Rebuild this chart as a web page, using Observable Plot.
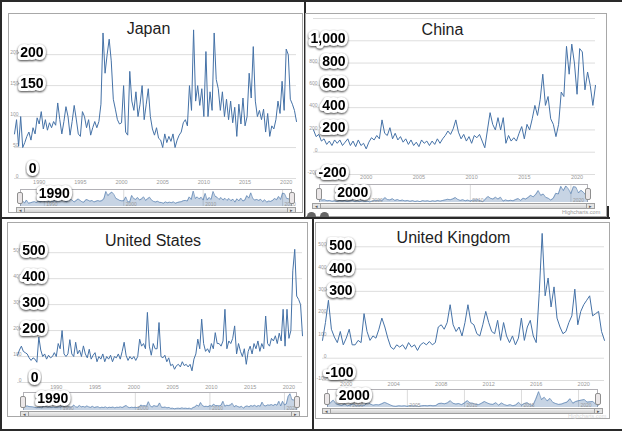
<!DOCTYPE html>
<html><head><meta charset="utf-8">
<script src="https://cdn.jsdelivr.net/npm/d3@7"></script>
<script src="https://cdn.jsdelivr.net/npm/@observablehq/plot@0.6"></script>
<style>
body{margin:0;background:#fff;font-family:"Liberation Sans",Arial,sans-serif;}
#root{position:relative;width:622px;height:431px;overflow:hidden;background:#fff;}
.abs{position:absolute;box-sizing:border-box;}
.hc{border:1px solid #a8a8a8;}
.blk{border:2px solid #2a2a2a;}
.line{background:#2a2a2a;}
.nav{border:1px solid #b2b1b6;border-bottom:none;}
.handle{background:#ebe7e8;border:1px solid #8f8f8f;border-radius:2px;}
.scroll{border:1px solid #a0a0a0;background:linear-gradient(#f0f0f0,#d2d2d2);}
.btn{position:absolute;top:0;bottom:0;width:7px;background:#e4e4e4;font-size:5px;line-height:5px;color:#555;text-align:center;}
.tiny{font-size:5.5px;color:#9a9a9a;white-space:nowrap;}
</style></head><body>
<svg width="0" height="0" style="position:absolute">
<defs><filter id="stk" x="-40%" y="-60%" width="180%" height="220%" color-interpolation-filters="sRGB">
<feMorphology in="SourceAlpha" operator="dilate" radius="0.3" result="dil"/>
<feGaussianBlur in="dil" stdDeviation="0.8" result="blur"/>
<feOffset in="blur" dx="0.3" dy="1" result="off"/>
<feFlood flood-color="#000" flood-opacity="0.75" result="col"/>
<feComposite in="col" in2="off" operator="in" result="shadow"/>
<feMerge><feMergeNode in="shadow"/><feMergeNode in="SourceGraphic"/></feMerge>
</filter></defs></svg>
<div id="root"></div>
<script>
// ---- data (quarterly values) ----
const japanStart = 1987;
const japanValues = [
 72,95,52,100, 50,58,68,75, 62,82,72,98, 88,108,80,95, 78,90,82,92,
 86,122,95,72, 92,116,100,70, 92,118,96,72, 68,108,100,82, 95,70,82,92,
 82,92,120,235, 170,200,225,190, 128,112,95,88, 90,150,75,70, 173,125,110,140,
 100,120,150,95, 120,145,100,80, 70,82,65,62, 50,72,58,68, 60,72,50,62,
 70,75,90,95, 85,150,110,240, 125,150,118,145, 100,205,100,140, 110,235,160,145,
 110,140,100,128, 95,125,90,115, 68,120,88,130, 85,100,170,130, 213,125,100,110,
 95,112,75,105, 68,85,80,95, 125,105,157,110, 209,200,128,120, 110,92
];
const chinaStart = 1995;
const chinaValues = [
 200,140,160,100, 120,70,100,60, 110,80,110,60, 90,120,60,100, 50,110,60,80,
 30,90,130,110, 150,120,290,170, 150,220,120,170, 110,140,90,120, 70,110,60,90,
 50,110,80,100, 60,100,70,120, 80,120,150,190, 160,210,290,180, 120,160,100,140,
 80,150,130,160, 100,40,200,355, 250,200,310,200, 310,80,150,100, 130,100,170,230,
 120,250,200,300, 420,330,470,700, 420,500,300,250, 140,250,540,500, 950,700,970,800,
 520,930,900,560, 720,600,420,600
];
const usStart = 1985;
const usValues = [
 105,125,140,120, 115,110,95,85, 95,90,78,175, 125,100,110,90, 105,95,100,115,
 100,150,130,200, 110,100,110,165, 110,100,155,110, 125,100,141,110, 95,128,90,105,
 115,80,100,90, 110,80,100,90, 105,80,100,95, 110,90,120,155, 105,85,100,90,
 100,85,100,167, 140,150,130,270, 140,105,150,130, 130,231,100,95, 105,80,95,65,
 70,51,65,70, 60,80,65,70, 60,70,45,90, 110,167,130,244, 150,120,130,115,
 150,130,192,150, 150,140,160,282, 130,160,150,170, 218,110,150,120, 100,130,70,120,
 140,110,150,130, 160,120,150,130, 256,150,140,170, 160,180,150,190, 160,282,140,282,
 170,200,430,513, 333,320,300,180
];
const ukStart = 1998;
const ukValues = [
 80,160,260,130, 95,70,120,60, 90,130,60,60, 80,70,200,120, 80,100,90,130,
 180,140,90,50, 40,60,50,60, 40,70,50,60, 35,60,70,60, 75,60,70,140,
 150,130,160,240, 150,120,140,100, 160,240,160,150, 110,100,150,210, 160,120,110,170,
 80,160,100,70, 100,60,90,180, 80,140,170,100, 70,290,560,280, 360,230,320,180,
 140,110,120,160, 190,310,150,210, 240,260,280,190, 200,210,120,80
];

// ---- ticks and labels ----
const japanYTicks = [0, 50, 100, 150, 200];
const japanYLabels = [0, 50, 100, 150, 200];
const japanXTicks = [1990, 1995, 2000, 2005, 2010, 2015, 2020];
const japanNavTicks = [1990, 2000, 2010, 2020];
const japanStickers = [200, 150];
const japanLowSticker = [0];
const japanNavSticker = [1990];

const chinaYTicks = [-200, 0, 200, 400, 600, 800, 1000, 1200];
const chinaYLabels = [-200, 0, 200, 400, 600, 800];
const chinaXTicks = [2000, 2005, 2010, 2015, 2020];
const chinaNavTicks = [2000, 2010, 2020];
const chinaStickers = [1000, 800, 600, 400, 200];
const chinaLowSticker = [-200];
const chinaNavSticker = [2000];

const usYTicks = [0, 100, 200, 300, 400, 500];
const usYLabels = [0, 100, 200, 300, 400, 500];
const usXTicks = [1990, 1995, 2000, 2005, 2010, 2015, 2020];
const usNavTicks = [1990, 2000, 2010, 2020];
const usStickers = [500, 400, 300, 200];
const usLowSticker = [0];
const usNavSticker = [1990];

const ukYTicks = [-100, 0, 100, 200, 300, 400, 500];
const ukYLabels = [-100, 0, 100, 200, 300, 400, 500];
const ukXTicks = [2000, 2004, 2008, 2012, 2016, 2020];
const ukNavTicks = [2000, 2005, 2010, 2015, 2020];
const ukStickers = [500, 400, 300];
const ukLowSticker = [-100];
const ukNavSticker = [2000];

// ---- rendering ----
const root = document.getElementById("root");
function box(cls, l, t, w, h, html) {
  const d = document.createElement("div");
  d.className = "abs " + cls;
  Object.assign(d.style, {left: l + "px", top: t + "px", width: w + "px", height: h + "px"});
  if (html) d.innerHTML = html;
  root.appendChild(d);
  return d;
}
function place(svg, l, t) {
  svg.style.position = "absolute";
  svg.style.left = l + "px";
  svg.style.top = t + "px";
  svg.querySelectorAll('g[font-weight="bold"], g[aria-label="sticker"]').forEach(g => {
    g.setAttribute("filter", "url(#stk)");
  });
  root.appendChild(svg);
}
const fmt = v => v.toLocaleString("en-US");
const FONT = "'Liberation Sans', Arial, sans-serif";
const sticker = {fontSize: 14, fontWeight: "bold", fill: "#000", stroke: "#fff", strokeWidth: 6,
  strokeLinejoin: "round", paintOrder: "stroke", ariaLabel: "sticker"};
const BLUE = "#4572A7";

function panel(c) {
  const data = c.values.map((v, i) => ({year: c.start + i / 4, value: v}));
  const xDomain = [c.start, c.start + (c.values.length - 1) / 4];
  box("hc", c.l, c.t, c.w, c.h);
  const main = Plot.plot({
    width: c.w, height: c.h,
    marginLeft: c.ml, marginRight: c.mr, marginTop: c.mt, marginBottom: c.mb,
    x: {domain: xDomain, axis: null},
    y: {domain: c.yDomain, axis: null},
    style: {background: "transparent", overflow: "visible", fontFamily: FONT},
    marks: [
      Plot.ruleY(c.yTicks, {stroke: "#d4d4d4", strokeWidth: 0.8}),
      Plot.text(c.yLabels, {y: d => d, text: fmt, frameAnchor: "left", textAnchor: "end", dx: 4, dy: -2, fontSize: 5, fill: "#999"}),
      Plot.text(c.xTicks, {x: d => d, text: d => String(d), frameAnchor: "bottom", lineAnchor: "top", dy: c.xPad, fontSize: 5.5, fill: "#999"}),
      Plot.lineY(data, {x: "year", y: "value", stroke: BLUE, strokeWidth: 1}),
      Plot.text([c.title], {text: d => d, frameAnchor: "top", lineAnchor: "middle", dx: c.titleDx, dy: c.titleDy, fontSize: 16, fill: "#1e1e1e"}),
      Plot.text(c.stickers, {y: d => d, text: fmt, frameAnchor: "left", textAnchor: "end", dx: c.sDx, dy: c.sDy, ...sticker}),
      Plot.text(c.lowSticker, {y: d => d, text: fmt, frameAnchor: "left", textAnchor: "end", dx: c.lDx, dy: c.lDy, ...sticker})
    ]
  });
  place(main, c.l, c.t);

  const n = c.nav;
  const nav = Plot.plot({
    width: n.w, height: n.h, margin: 0,
    x: {domain: xDomain, axis: null},
    y: {domain: [0, n.max], axis: null},
    style: {background: "transparent", overflow: "visible", fontFamily: FONT},
    marks: [
      Plot.ruleX(c.navTicks, {stroke: "#d2d2d2", strokeWidth: 0.8}),
      Plot.areaY(data, {x: "year", y: "value", fill: BLUE, fillOpacity: 0.3}),
      Plot.lineY(data, {x: "year", y: "value", stroke: BLUE, strokeWidth: 0.6}),
      Plot.text(c.navTicks, {x: d => d, text: d => String(d), frameAnchor: "bottom", lineAnchor: "bottom", textAnchor: "start", dx: 2, dy: -1, fontSize: 5, fill: "#999"}),
      Plot.text(c.navSticker, {x: d => d, text: d => String(d), textAnchor: "middle", dx: n.sDx, dy: n.sDy, ...sticker})
    ]
  });
  box("nav", n.l, n.t - 1, n.w, n.h + 1);
  place(nav, n.l, n.t);
  box("handle", n.l - 3, n.t + n.h / 2 - 6, 6, 12);
  box("handle", n.l + n.w - 3, n.t + n.h / 2 - 6, 6, 12);
  const s = c.scroll;
  const sc = box("scroll", s.l, s.t, s.w, s.h);
  sc.innerHTML = '<div class="btn" style="left:0;border-right:1px solid #a0a0a0">&#9666;</div>' +
                 '<div class="btn" style="right:0;border-left:1px solid #a0a0a0">&#9656;</div>';
}

// outer black frames
box("blk", 0, 0, 306, 219);
box("line", 305, 0, 317, 2);
box("line", 607, 206, 2, 12);
box("blk", 0, 217, 314, 214);
box("line", 312, 217, 298, 2);
box("line", 312, 429, 310, 2);

panel({title: "Japan", start: japanStart, values: japanValues,
  l: 8, t: 13, w: 295, h: 200, ml: 6, mr: 7, mt: 4, mb: 35,
  yDomain: [0, 260], yTicks: japanYTicks, yLabels: japanYLabels, xTicks: japanXTicks, xPad: 2,
  titleDx: -7, titleDy: 11,
  stickers: japanStickers, sDx: 29, sDy: -2, lowSticker: japanLowSticker, lDx: 22, lDy: -10,
  navTicks: japanNavTicks, navSticker: japanNavSticker,
  nav: {l: 20, t: 190, w: 272, h: 16, max: 250, sDx: 10, sDy: -5},
  scroll: {l: 16, t: 207, w: 280, h: 6}});

panel({title: "China", start: chinaStart, values: chinaValues,
  l: 305, t: 13, w: 302, h: 204, ml: 8, mr: 12, mt: 5, mb: 43,
  yDomain: [-200, 1200], yTicks: chinaYTicks, yLabels: chinaYLabels, xTicks: chinaXTicks, xPad: 1,
  titleDx: -12, titleDy: 11,
  stickers: chinaStickers, sDx: 32, sDy: -2, lowSticker: chinaLowSticker, lDx: 33, lDy: -2,
  navTicks: chinaNavTicks, navSticker: chinaNavSticker,
  nav: {l: 319, t: 185, w: 269, h: 17, max: 1000, sDx: -17, sDy: -1.5},
  scroll: {l: 312, t: 203, w: 283, h: 6}});

panel({title: "United States", start: usStart, values: usValues,
  l: 7, t: 222, w: 301, h: 195, ml: 10, mr: 6, mt: 25, mb: 35,
  yDomain: [0, 520], yTicks: usYTicks, yLabels: usYLabels, xTicks: usXTicks, xPad: 3,
  titleDx: -7, titleDy: -7,
  stickers: usStickers, sDx: 28, sDy: -2, lowSticker: usLowSticker, lDx: 21, lDy: -5,
  navTicks: usNavTicks, navSticker: usNavSticker,
  nav: {l: 23, t: 393, w: 274, h: 17, max: 520, sDx: -8, sDy: -3.5},
  scroll: {l: 20, t: 411, w: 280, h: 6}});

panel({title: "United Kingdom", start: ukStart, values: ukValues,
  l: 315, t: 222, w: 295, h: 197, ml: 7, mr: 6, mt: 2, mb: 39,
  yDomain: [-100, 600], yTicks: ukYTicks, yLabels: ukYLabels, xTicks: ukXTicks, xPad: 1.5,
  titleDx: -10, titleDy: 13,
  stickers: ukStickers, sDx: 30, sDy: -1, lowSticker: ukLowSticker, lDx: 31, lDy: -8,
  navTicks: ukNavTicks, navSticker: ukNavSticker,
  nav: {l: 327, t: 390, w: 271, h: 17, max: 600, sDx: 4, sDy: -3.5},
  scroll: {l: 322, t: 408, w: 281, h: 6}});

// small chart furniture
box("tiny", 562, 209, 40, 7, "Highcharts.com");
box("tiny", 568, 413, 40, 7, "<span style='color:#d8d8d8'>Highcharts.com</span>");
box("", 307, 212, 30, 5, "<div style='position:absolute;left:0;top:0;width:9px;height:9px;border-radius:50%;background:#666'></div><div style='position:absolute;left:13px;top:0;width:9px;height:9px;border-radius:50%;background:#666'></div>").style.overflow = "hidden";
</script></body></html>
